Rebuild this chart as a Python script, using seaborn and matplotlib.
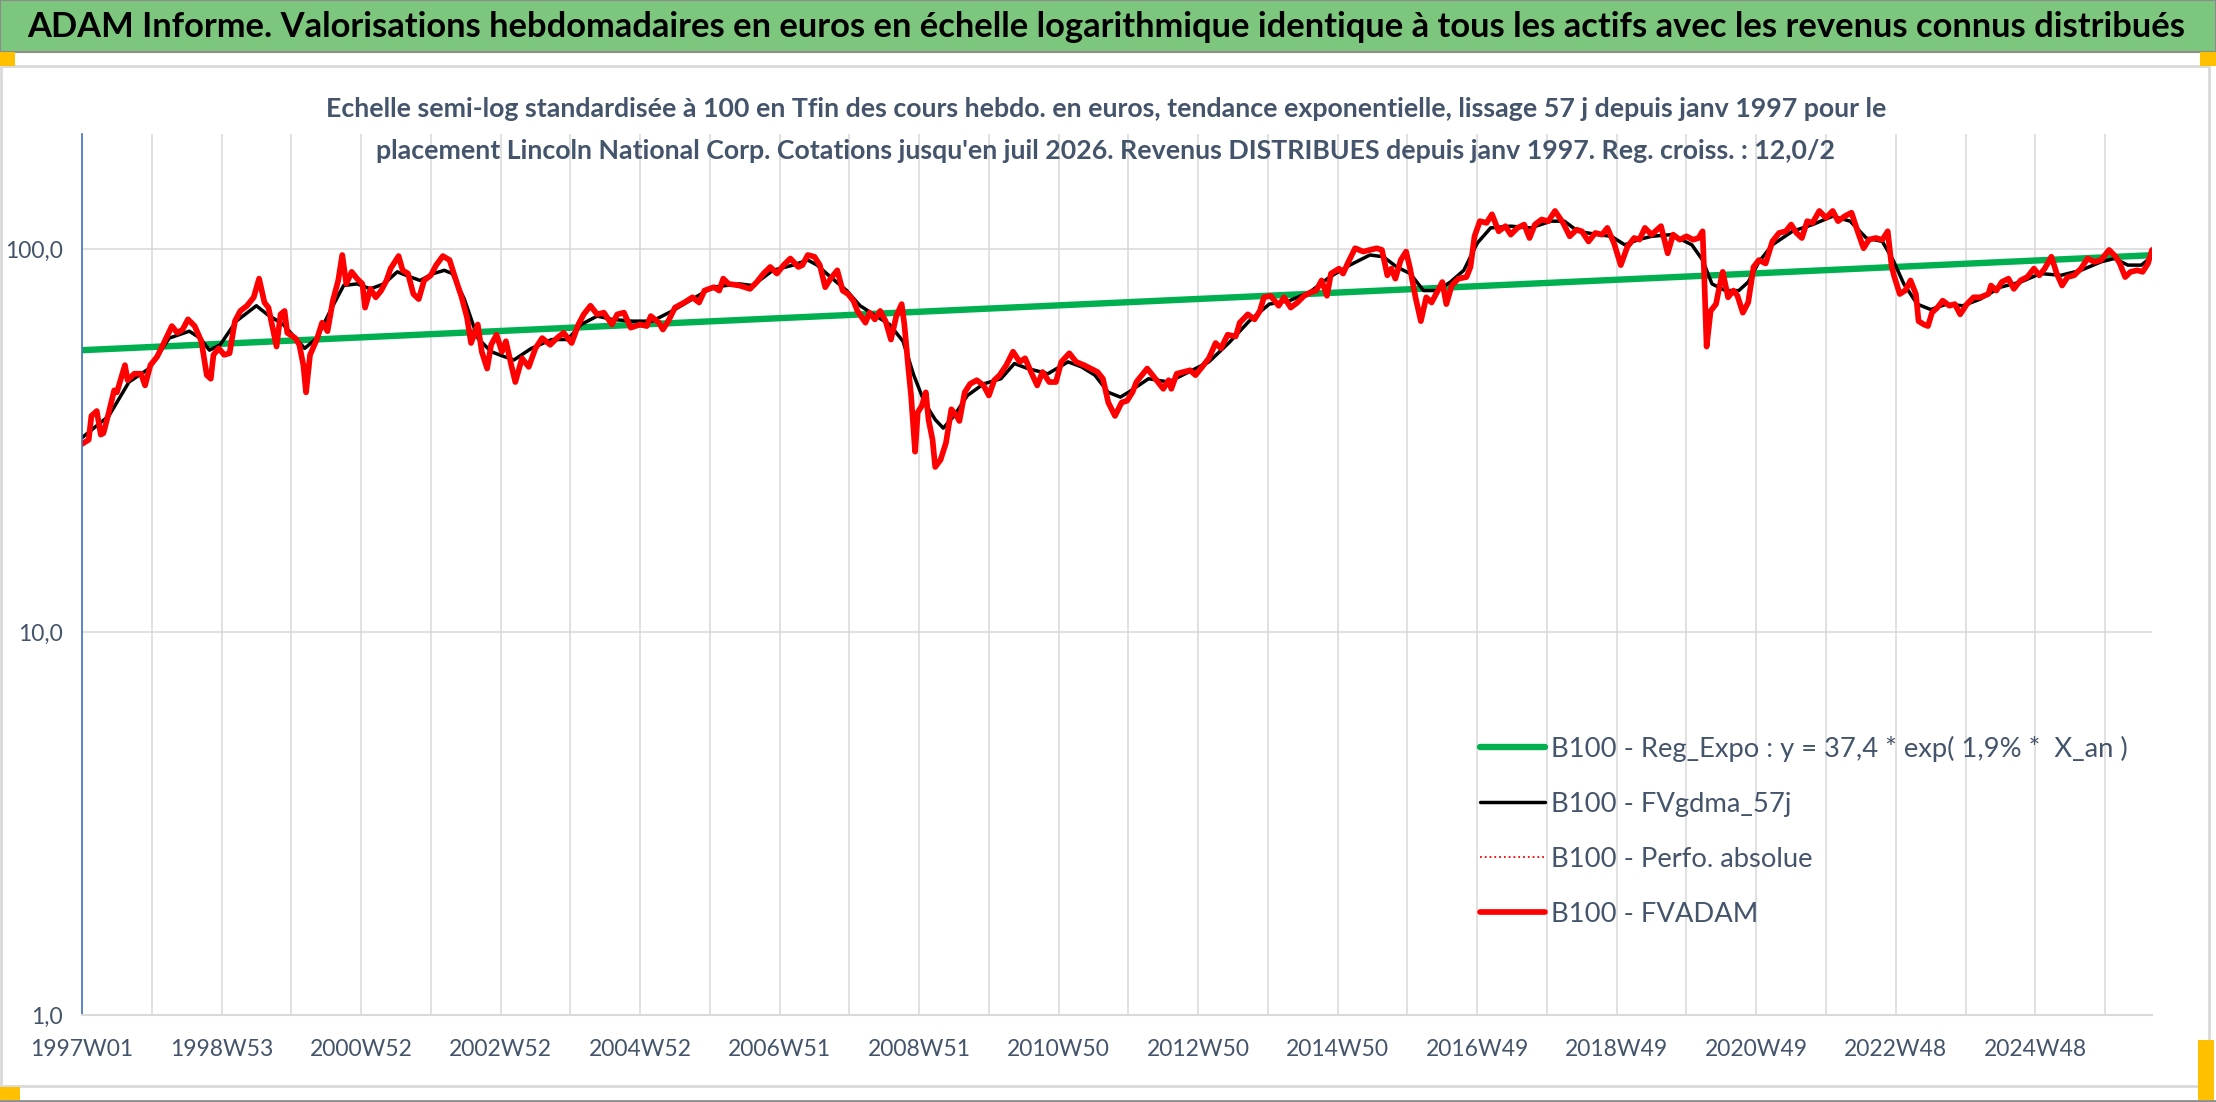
import matplotlib
matplotlib.use("Agg")
import matplotlib.pyplot as plt
import seaborn as sns
import pandas as pd
from matplotlib import font_manager
from matplotlib.patches import Rectangle
from matplotlib.ticker import FixedLocator, NullLocator

# ---- données (indice de semaine depuis 1997W01, base 100) ----

semaines_fvadam = [0, 5, 7, 11, 14, 16, 20, 24, 26, 32, 34, 39, 44, 47, 51, 56, 61, 67, 71, 75, 79, 84, 89, 93, 96, 98,
                   102, 106, 110, 114, 118, 123, 128, 132, 136, 139, 145, 148, 151, 153, 159, 162, 165, 167, 170, 175,
                   179, 183, 187, 191, 194, 197, 201, 205, 209, 211, 215, 219, 223, 227, 230, 236, 239, 243, 247, 251,
                   255, 260, 264, 269, 274, 278, 283, 287, 290, 295, 298, 302, 305, 309, 313, 316, 320, 323, 328, 333,
                   338, 343, 349, 354, 359, 365, 370, 374, 379, 384,
                   389, 395, 399, 404, 409, 416, 421, 424, 430, 433, 437, 442, 449, 455, 460, 464, 471, 475, 478, 482,
                   490, 498, 503, 508, 513, 518, 523, 528, 534, 537, 541, 546, 550, 554, 558, 563, 567, 571, 575, 578,
                   584, 587, 591, 595, 599, 603, 607, 611, 613, 616, 618, 621, 623, 626, 629, 631, 634, 636, 640, 644,
                   648, 652, 654, 658, 662, 667, 672, 676, 680, 684, 689, 694, 699, 703, 708, 712, 716, 721, 726, 730,
                   736, 741, 747, 752, 757, 761, 765, 770,
                   775, 779, 783, 786, 790, 794, 798, 802, 806, 810, 812, 816, 821, 826, 830, 835, 840, 845, 849, 854,
                   860, 863, 869, 874, 878, 881, 886, 892, 896, 901, 906, 911, 916, 920, 924, 928, 931, 937, 940, 944,
                   949, 955, 960, 965, 969, 973, 976, 979, 983, 987, 990, 994, 998, 1002, 1006, 1010, 1014, 1017, 1021,
                   1026, 1032, 1035, 1038, 1042, 1047, 1051, 1056, 1061, 1065, 1070, 1075, 1079, 1083, 1088, 1093,
                   1098, 1104, 1109, 1114, 1118, 1123, 1128, 1133, 1137, 1142, 1147, 1152, 1157, 1161,
                   1165, 1170, 1177, 1182, 1186, 1191, 1196, 1201, 1205, 1208, 1209, 1211, 1214, 1218, 1220, 1223,
                   1227, 1231, 1234, 1238, 1242, 1246, 1250, 1255, 1260, 1265, 1270, 1274, 1278, 1282, 1286, 1290,
                   1295, 1300, 1305, 1309, 1314, 1319, 1324, 1328, 1332, 1337, 1342, 1346, 1349, 1351, 1355, 1359,
                   1363, 1367, 1369, 1373, 1376, 1379, 1383, 1387, 1392, 1396, 1400, 1405, 1410, 1415, 1421, 1423,
                   1427, 1431, 1436, 1440, 1445, 1450, 1455, 1459, 1463, 1468, 1472, 1476, 1480, 1485, 1490, 1495,
                   1500, 1505, 1511, 1516, 1519, 1523, 1527, 1532, 1536, 1540, 1543]
fvadam = [31.0, 31.8, 36.7, 37.8, 32.8, 33.1, 37.5, 42.8, 42.3, 49.8, 45.5, 47.3, 47.3, 44.1, 49.8, 52.4, 56.9, 63.0,
          60.5, 61.7, 65.6, 63.0, 57.5, 46.9, 45.9, 53.0, 55.1, 53.0, 53.5, 64.9, 69.0, 71.2, 74.9, 83.8, 72.6, 70.4,
          55.7, 67.6, 69.0, 60.5, 58.6, 56.3, 49.8, 42.3, 53.0, 58.1, 64.3, 61.1, 73.4, 82.9, 96.6, 81.2, 87.3, 83.8,
          81.2, 70.4, 78.8, 74.9, 78.0, 82.9, 89.0, 96.0, 88.1, 86.4, 76.4, 74.1, 82.9, 85.5, 90.9, 96.0, 93.7, 84.6,
          74.9, 66.3, 56.9, 63.6, 54.0, 48.8, 56.3, 59.8, 54.0, 57.5, 49.8, 45.0, 51.9, 49.3, 55.1, 58.6, 56.3, 58.6,
          60.5, 56.9, 63.6, 67.6, 71.2, 67.6,
          68.3, 63.6, 67.6, 68.3, 62.4, 63.6, 63.0, 66.9, 64.3, 61.7, 64.9, 70.4, 72.6, 74.9, 72.6, 78.0, 79.6, 78.0,
          83.8, 81.2, 80.4, 78.8, 82.1, 86.4, 89.9, 86.4, 90.9, 94.6, 89.9, 90.9, 96.6, 95.6, 90.9, 79.6, 83.8, 88.1,
          78.0, 76.4, 73.4, 69.0, 64.3, 68.3, 65.6, 69.0, 64.9, 58.1, 66.9, 71.9, 63.6, 48.8, 41.5, 29.6, 37.5, 39.0,
          42.3, 35.9, 31.8, 27.0, 28.2, 31.2, 38.2, 36.7, 35.6, 42.3, 44.5, 45.5, 44.1, 41.5, 45.5, 46.9, 49.8, 54.0,
          50.8, 51.9, 47.3, 44.1, 47.8, 45.0, 45.0, 50.8, 53.5, 50.8, 49.8, 48.8, 47.8, 45.9, 39.8, 36.7,
          39.8, 40.2, 42.3, 45.0, 46.9, 48.8, 46.9, 45.0, 43.2, 45.5, 43.2, 47.3, 47.8, 48.3, 46.9, 49.3, 51.9, 56.9,
          55.1, 59.8, 59.2, 64.3, 67.6, 65.6, 69.0, 74.9, 75.6, 71.2, 74.9, 70.4, 72.6, 75.6, 77.2, 78.0, 82.9, 75.6,
          86.4, 89.0, 86.4, 92.7, 100.6, 98.6, 99.6, 100.6, 99.6, 85.5, 89.0, 83.8, 93.7, 98.6, 89.0, 74.9, 64.9,
          74.9, 72.6, 77.2, 82.1, 71.9, 80.4, 83.8, 84.6, 89.9, 108.1, 118.4, 117.2, 123.4, 111.4, 114.9, 109.2,
          113.7, 116.0, 107.0, 116.0, 119.6, 118.4, 125.9, 117.2, 108.1, 112.5, 111.4, 104.8, 110.3, 109.2, 113.7,
          103.7, 90.9, 101.6, 107.0, 106.0,
          113.7, 109.2, 114.9, 97.6, 109.2, 105.9, 108.1, 105.9, 107.0, 111.4, 89.9, 55.7, 69.0, 71.9, 78.0, 87.3,
          74.9, 78.0, 75.6, 68.3, 72.6, 89.9, 93.7, 91.8, 104.8, 110.3, 111.4, 116.0, 110.3, 107.0, 118.4, 117.2,
          125.9, 120.8, 125.9, 118.4, 122.0, 124.6, 110.3, 100.6, 105.9, 107.0, 105.9, 111.4, 89.9, 84.6, 76.4, 78.0,
          82.9, 76.4, 64.9, 63.6, 63.0, 68.3, 70.4, 73.4, 71.2, 71.9, 67.6, 71.9, 74.9, 74.9, 76.4, 80.4,
          78.0, 82.1, 83.8, 78.8, 82.9, 84.6, 89.0, 85.5, 89.0, 95.6, 86.4, 80.4, 84.6, 85.5, 89.0, 94.6,
          92.7, 93.7, 99.6, 95.6, 91.8, 84.6, 87.3, 88.1, 87.3, 91.8, 99.6]

semaines_lisse = [0, 20, 35, 50, 65, 80, 88, 95, 103, 115, 130, 138, 150, 160, 166, 175, 185, 195, 205, 215, 225, 235,
                  245, 252, 262, 270, 276, 285, 295, 305, 315, 322, 335, 350, 362, 372, 384, 395, 410, 425, 440, 455,
                  470, 490, 500, 515, 530, 541, 548, 558, 570, 580, 592, 602, 612, 620, 628, 636, 642, 650, 660, 672,
                  685, 695, 705, 720, 735, 745, 755, 765, 774, 780, 795, 810, 825, 840, 855, 870, 885, 900, 915, 930,
                  945, 960, 970, 980, 990, 1000, 1010, 1020, 1030, 1040, 1050, 1065, 1080, 1095, 1105, 1115, 1130,
                  1140, 1150, 1160, 1170, 1185, 1200, 1208, 1215, 1225, 1235, 1242, 1250, 1260, 1275, 1290, 1305,
                  1318, 1330, 1342, 1350, 1358, 1368, 1378, 1390, 1402, 1415, 1430, 1445, 1460, 1475, 1490, 1505,
                  1515, 1525, 1535, 1543]
fvgdma_57j = [32.2, 36.7, 45.0, 48.8, 58.6, 61.1, 58.6, 54.5, 56.3, 64.9, 71.2, 67.6, 63.6, 58.1, 55.1, 58.6, 69.0,
              80.4, 81.2, 78.8, 81.2, 87.3, 84.6, 82.9, 86.4, 88.1, 86.4, 74.1, 58.6, 54.0, 52.4, 51.4, 55.1, 58.1,
              58.1, 63.6, 66.9, 65.6, 64.9, 64.9, 69.0, 74.1, 79.6, 81.2, 80.4, 88.1, 90.9, 93.7, 90.9, 84.6, 78.0,
              71.2, 66.9, 63.6, 57.5, 46.9, 39.8, 35.9, 34.1, 36.7, 41.5, 44.5, 45.9, 50.3, 48.8, 47.3, 50.8, 49.3,
              46.9, 42.3, 41.1, 42.3, 45.9, 45.0, 47.8, 50.8, 57.0, 64.9, 71.9, 73.4, 77.2, 84.6, 90.9, 96.6, 95.6,
              89.9, 86.4, 78.0, 78.0, 82.1, 88.1, 103.7, 113.7, 114.9, 113.7, 118.4, 118.4, 111.4, 109.2, 108.1,
              102.7, 105.9, 108.1, 109.2, 102.7, 93.7, 81.2, 78.0, 78.0, 82.1, 92.7, 102.7, 111.4, 116.0, 122.0,
              118.4, 107.0, 104.8, 93.7, 81.2, 71.9, 69.6, 71.9, 71.2, 74.1, 79.6, 82.1, 86.4, 85.5, 88.1, 92.7,
              94.6, 90.9, 90.9, 95.6]

semaines_reg = [0, 1543]
reg_expo = [54.5, 96.5]

etiquettes_x = ["1997W01", "1998W53", "2000W52", "2002W52", "2004W52", "2006W51", "2008W51", "2010W50",
                "2012W50", "2014W50", "2016W49", "2018W49", "2020W49", "2022W48", "2024W48"]
ticks_y = [1, 10, 100]
etiquettes_y = ["1,0", "10,0", "100,0"]

titre = ("ADAM Informe. Valorisations hebdomadaires en euros en échelle logarithmique identique à tous "
         "les actifs avec les revenus connus distribués")
sous_titre_1 = ("Echelle semi-log standardisée à 100 en Tfin des cours hebdo. en euros, tendance exponentielle, "
                "lissage 57 j depuis janv 1997 pour le")
sous_titre_2 = ("placement Lincoln National Corp. Cotations jusqu'en juil 2026. Revenus DISTRIBUES depuis janv 1997. "
                "Reg. croiss. : 12,0/2")
noms_series = ["B100 - Reg_Expo : y = 37,4 * exp( 1,9% *  X_an )", "B100 - FVgdma_57j",
               "B100 - Perfo. absolue", "B100 - FVADAM"]

# ---- style ----

sns.set_style("white")
dispo = {f.name for f in font_manager.fontManager.ttflist}
police = "Liberation Sans Narrow" if "Liberation Sans Narrow" in dispo else "Lato"
plt.rcParams["font.family"] = [police, "DejaVu Sans"]

W, H = 2216, 1102
fig = plt.figure(figsize=(W / 100, H / 100), dpi=100)
fig.patch.set_facecolor("white")
ax = fig.add_axes([82 / W, 87 / H, 2070 / W, 881 / H])

ardoise = "#44546A"
grille = "#D9D9D9"

df_reg = pd.DataFrame({"semaine": semaines_reg, "valeur": reg_expo})
df_lisse = pd.DataFrame({"semaine": semaines_lisse, "valeur": fvgdma_57j})
df_red = pd.DataFrame({"semaine": semaines_fvadam, "valeur": fvadam})

sns.lineplot(data=df_reg, x="semaine", y="valeur", color="#00B050", linewidth=4.6, ax=ax,
             label=noms_series[0], sort=False, estimator=None, legend=False)
sns.lineplot(data=df_lisse, x="semaine", y="valeur", color="black", linewidth=2.5, ax=ax,
             label=noms_series[1], sort=False, estimator=None, legend=False)
sns.lineplot(data=df_red, x="semaine", y="valeur", color="#FF0000", linewidth=1.3, linestyle=":", ax=ax,
             label=noms_series[2], sort=False, estimator=None, legend=False)
sns.lineplot(data=df_red, x="semaine", y="valeur", color="#FF0000", linewidth=4.1, ax=ax,
             label=noms_series[3], sort=False, estimator=None, legend=False)

ax.set_yscale("log")
ax.set_ylim(1, 200)
ax.set_xlim(0, 1543)
ax.set_xlabel("")
ax.set_ylabel("")

ax.yaxis.set_major_locator(FixedLocator(ticks_y))
ax.yaxis.set_minor_locator(NullLocator())
ax.set_yticklabels(etiquettes_y)

pos_x = [52 * k for k in range(30)]
lab_x = [etiquettes_x[k // 2] if k % 2 == 0 else "" for k in range(30)]
ax.set_xticks(pos_x)
ax.set_xticklabels(lab_x)

ax.tick_params(axis="x", length=6.5, width=1, color=grille, pad=11, labelsize=16.5, labelcolor=ardoise)
ax.tick_params(axis="y", length=0, pad=14, labelsize=16.5, labelcolor=ardoise)
ax.grid(True, color=grille, linewidth=1.1)
ax.set_axisbelow(True)
for s in ["top", "right"]:
    ax.spines[s].set_visible(False)
ax.spines["left"].set_color("#4472C4")
ax.spines["left"].set_linewidth(1.2)
ax.spines["bottom"].set_color(grille)
ax.spines["bottom"].set_linewidth(1.5)

# ---- cadre, bandeau et poignées jaunes ----

fig.patches.append(Rectangle((0, 1 - 52 / H), 1, 52 / H, transform=fig.transFigure,
                             facecolor="#7DC67D", edgecolor="#8C8C8C", linewidth=1.5, zorder=0))
fig.patches.append(Rectangle((1 / W, 1 - 1086 / H), 2208 / W, 1020 / H, transform=fig.transFigure,
                             facecolor="none", edgecolor=grille, linewidth=2, zorder=0))
fig.add_artist(plt.Line2D([0, 1], [1.5 / H, 1.5 / H], transform=fig.transFigure, color="#8C8C8C", linewidth=2))
for (x0, y0, w, h) in [(0, 52, 15, 14), (2200, 52, 16, 14), (0, 1087, 20, 13), (2198, 1040, 16, 60)]:
    fig.patches.append(Rectangle((x0 / W, 1 - (y0 + h) / H), w / W, h / H, transform=fig.transFigure,
                                 facecolor="#FFC000", edgecolor="none", zorder=1))

# ---- textes ----

t_titre = fig.text(1106 / W, 1 - 27 / H, titre, ha="center", va="center", fontsize=22,
                   fontweight="bold", color="black")
t_s1 = fig.text(1106 / W, 1 - 109 / H, sous_titre_1, ha="center", va="center", fontsize=16,
                fontweight="bold", color=ardoise)
t_s2 = fig.text(1106 / W, 1 - 151 / H, sous_titre_2, ha="center", va="center", fontsize=16,
                fontweight="bold", color=ardoise)

rend = fig.canvas.get_renderer()


def ajuster(t, largeur):
    bb = t.get_window_extent(renderer=rend)
    t.set_fontsize(t.get_fontsize() * largeur / bb.width)


ajuster(t_titre, 2160)
ajuster(t_s1, 1567)
t_s2.set_fontsize(t_s1.get_fontsize())

# legende : taille calée sur la largeur du premier libellé
leg = ax.legend(frameon=False, fontsize=16)
larg = leg.get_texts()[0].get_window_extent(renderer=rend).width
leg.remove()
fs = 16 * 578 / larg
leg = ax.legend(loc="upper left", bbox_to_anchor=(1466 / W, 1 - 722 / H), bbox_transform=fig.transFigure,
                frameon=False, fontsize=fs, handlelength=2.4, handletextpad=0.2, labelspacing=1.1,
                borderpad=0, labelcolor=ardoise)

fig.savefig("out.png", dpi=100, facecolor="white")
